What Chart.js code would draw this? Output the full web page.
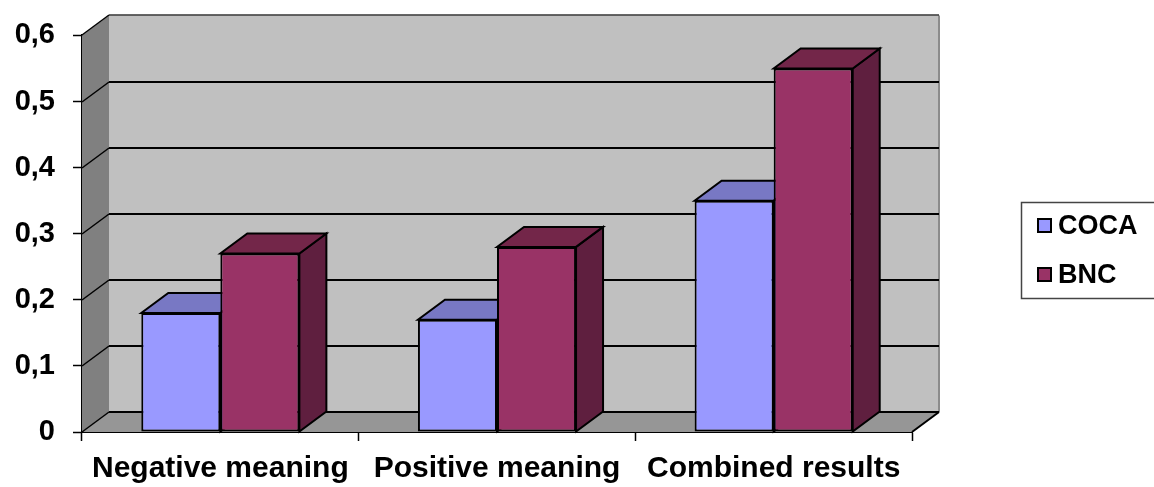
<!DOCTYPE html>
<html>
<head>
<meta charset="utf-8">
<script src="https://cdn.jsdelivr.net/npm/chart.js@4.4.1/dist/chart.umd.min.js"></script>
<style>
  html, body { margin: 0; padding: 0; background: #ffffff; }
  #wrap { position: relative; width: 1154px; height: 487px; }
</style>
</head>
<body>
<div id="wrap"><canvas id="chart" width="1154" height="487"></canvas></div>
<script>
// Categories, series and value axis
const categories = ['Negative meaning', 'Positive meaning', 'Combined results'];
const cocaValues = [0.18, 0.17, 0.35];
const bncValues = [0.27, 0.28, 0.55];
const seriesNames = ['COCA', 'BNC'];
const yMin = 0;
const yMax = 0.6;
const yStep = 0.1;

// Colours for front, top and side faces of each series
const faceColors = [
  { front: '#9999FF', top: '#7878C4', side: '#6666B0' },
  { front: '#993366', top: '#732649', side: '#5F1F3F' }
];

// Depth of the 3-D projection (pixels)
const DEPTH_X = 27;
const DEPTH_Y = -20;
const FONT = "'Liberation Sans', Arial, Helvetica, sans-serif";

function fmtTick(v) {
  if (Math.abs(v) < 1e-9) return '0';
  return v.toFixed(1).replace('.', ',');
}

// Walls, floor, gridlines and the 3-D faces of the columns
const walls3d = {
  id: 'walls3d',
  beforeDatasetsDraw(chart) {
    const ctx = chart.ctx;
    const y = chart.scales.y;
    const L = chart.chartArea.left, R = chart.chartArea.right;
    const T = y.getPixelForValue(yMax), B = y.getPixelForValue(yMin);
    ctx.save();
    // back wall
    ctx.fillStyle = '#C0C0C0';
    ctx.fillRect(L + DEPTH_X, T + DEPTH_Y, R - L, B - T);
    // left side wall
    ctx.fillStyle = '#808080';
    ctx.beginPath();
    ctx.moveTo(L, T); ctx.lineTo(L + DEPTH_X, T + DEPTH_Y);
    ctx.lineTo(L + DEPTH_X, B + DEPTH_Y); ctx.lineTo(L, B);
    ctx.closePath(); ctx.fill();
    // floor
    ctx.fillStyle = '#969696';
    ctx.beginPath();
    ctx.moveTo(L, B); ctx.lineTo(R, B);
    ctx.lineTo(R + DEPTH_X, B + DEPTH_Y); ctx.lineTo(L + DEPTH_X, B + DEPTH_Y);
    ctx.closePath(); ctx.fill();

    // right edge of the back wall
    ctx.strokeStyle = '#8C8C8C';
    ctx.lineWidth = 2;
    ctx.beginPath();
    ctx.moveTo(R + DEPTH_X, T + DEPTH_Y); ctx.lineTo(R + DEPTH_X, B + DEPTH_Y);
    ctx.stroke();

    // gridlines on back wall and side wall
    ctx.strokeStyle = '#000000';
    y.ticks.forEach(t => {
      const py = Math.round(y.getPixelForValue(t.value));
      ctx.lineWidth = (t.value >= yMax - 1e-9) ? 1.5 : 2;
      ctx.strokeStyle = (t.value >= yMax - 1e-9) ? '#333333' : '#000000';
      ctx.beginPath();
      ctx.moveTo(L + DEPTH_X, py + DEPTH_Y); ctx.lineTo(R + DEPTH_X, py + DEPTH_Y);
      ctx.stroke();
      ctx.lineWidth = 1.5;
      ctx.strokeStyle = '#000000';
      ctx.beginPath();
      ctx.moveTo(L, py); ctx.lineTo(L + DEPTH_X, py + DEPTH_Y);
      ctx.stroke();
    });
    // right floor edge
    ctx.lineWidth = 2;
    ctx.beginPath();
    ctx.moveTo(R, B); ctx.lineTo(R + DEPTH_X, B + DEPTH_Y);
    ctx.stroke();

    // top and side faces of every column, category by category
    const metas = chart.data.datasets.map((d, i) => chart.getDatasetMeta(i));
    const n = chart.data.labels.length;
    ctx.lineJoin = 'miter';
    for (let c = 0; c < n; c++) {
      metas.forEach((meta, di) => {
        const el = meta.data[c];
        if (!el) return;
        const p = el.getProps(['x', 'y', 'base', 'width'], true);
        const xl = p.x - p.width / 2, xr = p.x + p.width / 2;
        const yt = p.y, yb = p.base;
        const col = faceColors[di];
        ctx.lineWidth = 2;
        ctx.strokeStyle = '#000000';
        // side face
        ctx.fillStyle = col.side;
        ctx.beginPath();
        ctx.moveTo(xr, yt); ctx.lineTo(xr + DEPTH_X, yt + DEPTH_Y);
        ctx.lineTo(xr + DEPTH_X, yb + DEPTH_Y); ctx.lineTo(xr, yb);
        ctx.closePath(); ctx.fill(); ctx.stroke();
        // top face
        ctx.fillStyle = col.top;
        ctx.beginPath();
        ctx.moveTo(xl, yt); ctx.lineTo(xr, yt);
        ctx.lineTo(xr + DEPTH_X, yt + DEPTH_Y); ctx.lineTo(xl + DEPTH_X, yt + DEPTH_Y);
        ctx.closePath(); ctx.fill(); ctx.stroke();
      });
    }
    ctx.restore();
  }
};

// Boxed legend on the right
const sideLegend = {
  id: 'sideLegend',
  afterDraw(chart) {
    const ctx = chart.ctx;
    const bx = 1021, by = 202, bw = 140, bh = 96;
    ctx.save();
    ctx.fillStyle = '#ffffff';
    ctx.fillRect(bx, by, bw, bh);
    ctx.strokeStyle = '#444444';
    ctx.lineWidth = 1.5;
    ctx.strokeRect(bx + 0.5, by + 0.5, bw, bh);
    ctx.font = 'bold 27px ' + FONT;
    ctx.textBaseline = 'middle';
    chart.data.datasets.forEach((ds, i) => {
      const cy = 226 + i * 49;
      ctx.fillStyle = ds.backgroundColor;
      ctx.fillRect(1038, cy - 7, 13, 13);
      ctx.strokeStyle = '#000000';
      ctx.lineWidth = 2;
      ctx.strokeRect(1038, cy - 7, 13, 13);
      ctx.fillStyle = '#000000';
      ctx.fillText(ds.label, 1058, cy + 1);
    });
    ctx.restore();
  }
};

const chart = new Chart(document.getElementById('chart'), {
  type: 'bar',
  data: {
    labels: categories,
    datasets: [
      { label: seriesNames[0], data: cocaValues, backgroundColor: faceColors[0].front },
      { label: seriesNames[1], data: bncValues, backgroundColor: faceColors[1].front }
    ]
  },
  options: {
    responsive: false,
    devicePixelRatio: 1,
    animation: false,
    layout: { padding: { left: 0, top: 32, right: 242, bottom: 0 } },
    datasets: {
      bar: {
        categoryPercentage: 2 / 3.5,
        barPercentage: 1,
        borderColor: '#000000',
        borderWidth: 2,
        borderSkipped: false
      }
    },
    plugins: {
      legend: { display: false },
      tooltip: { enabled: false }
    },
    scales: {
      x: {
        offset: true,
        grid: {
          offset: true,
          drawOnChartArea: false,
          drawTicks: true,
          tickLength: 9,
          tickWidth: 1.5,
          tickColor: '#000000'
        },
        border: { display: true, color: '#000000', width: 2 },
        ticks: {
          color: '#000000',
          padding: 10,
          maxRotation: 0,
          autoSkip: false,
          font: { family: FONT, size: 30, weight: 'bold' }
        },
        afterFit(scale) { scale.height = 55; }
      },
      y: {
        min: yMin,
        max: yMax,
        grid: {
          drawOnChartArea: false,
          drawTicks: true,
          tickLength: 9,
          tickWidth: 1.5,
          tickColor: '#000000'
        },
        border: { display: true, color: '#000000', width: 2 },
        ticks: {
          stepSize: yStep,
          color: '#000000',
          padding: 18,
          font: { family: FONT, size: 29, weight: 'bold' },
          callback: v => fmtTick(v)
        },
        afterFit(scale) { scale.width = 82; }
      }
    }
  },
  plugins: [walls3d, sideLegend]
});
</script>
</body>
</html>
